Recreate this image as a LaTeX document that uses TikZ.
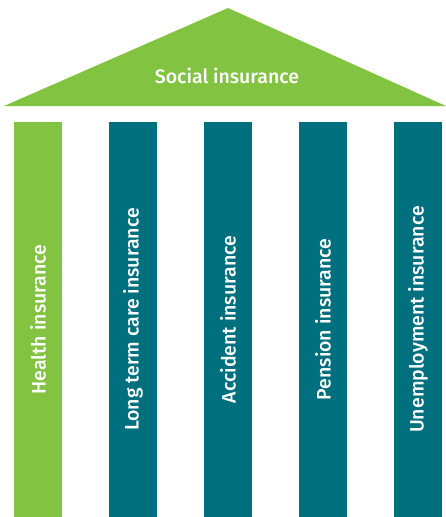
\documentclass[tikz,border=0pt]{standalone}
\usepackage{fontspec}
\setmainfont{Fira Sans}[UprightFont={* Medium}]
\definecolor{roofgreen}{RGB}{130,195,65}
\definecolor{pillarteal}{RGB}{0,111,126}
\tikzset{
  pillar/.style={rotate=90, minimum width=395pt, minimum height=48pt, inner sep=0pt,
    text=white, font={\fontsize{19.5}{22}\selectfont}}
}
\begin{document}
\begin{tikzpicture}[x=1pt, y=-1pt]
    \useasboundingbox (0,0) rectangle (446,517);
    % roof
    \fill[roofgreen] (4,106) -- (228,8) -- (446,106) -- cycle;
    \node[text=white, font={\fontsize{19.5}{22}\selectfont}] (roof) at (227,76) {Social insurance};
    % pillars
    \foreach \a/\c [count=\n] in {Health insurance/roofgreen,Long term care insurance/pillarteal,Accident insurance/pillarteal,Pension insurance/pillarteal,Unemployment insurance/pillarteal} {
      \node[pillar, fill=\c] (p\n) at (38+95*\n-95, 319.5) {\a};
    }
\end{tikzpicture}
\end{document}
